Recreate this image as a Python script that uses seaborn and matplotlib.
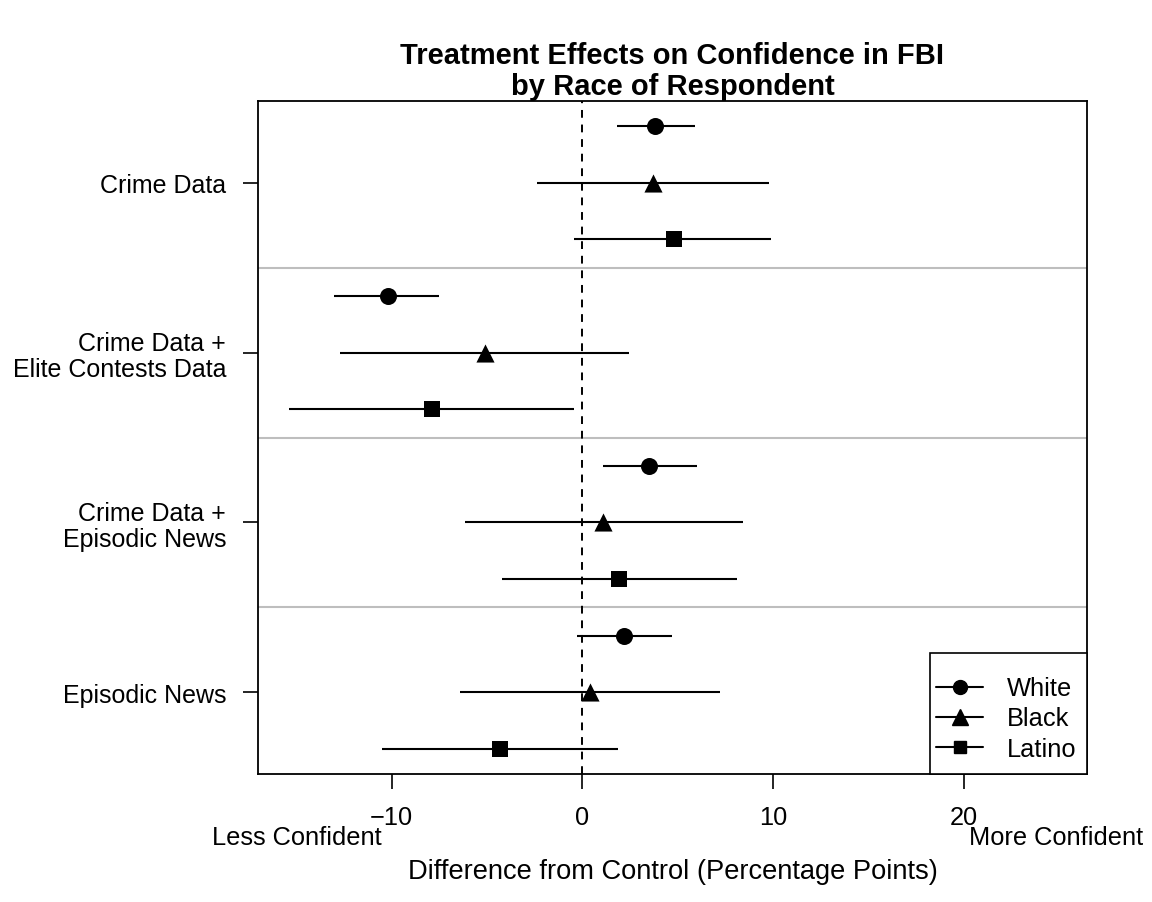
import matplotlib
matplotlib.use("Agg")
import matplotlib.pyplot as plt
from matplotlib.lines import Line2D
from matplotlib.patches import Rectangle
import seaborn as sns
import pandas as pd

# ---- data ----
treatments = ["Crime Data", "Crime Data +\nElite Contests Data",
              "Crime Data +\nEpisodic News", "Episodic News"]
races = ["White", "Black", "Latino"]
estimate = [3.8, 3.7, 4.8,
            -10.2, -5.1, -7.9,
            3.5, 1.1, 1.9,
            2.2, 0.4, -4.3]
ci_low = [1.8, -2.4, -0.45,
          -13.0, -12.7, -15.4,
          1.1, -6.15, -4.2,
          -0.3, -6.4, -10.5]
ci_high = [5.9, 9.8, 9.9,
           -7.5, 2.45, -0.45,
           6.0, 8.4, 8.1,
           4.7, 7.2, 1.85]
x_ticks = [-10, 0, 10, 20]
x_ticklabels = ["\u221210", "0", "10", "20"]

rows = []
k = 0
for g, t in enumerate(treatments):
    for r, race in enumerate(races):
        rows.append({"treatment": t, "race": race,
                     "est": estimate[k], "lo": ci_low[k], "hi": ci_high[k],
                     "y": 12 - (3 * g + r)})
        k += 1
df = pd.DataFrame(rows)

sns.set_style("ticks")
plt.rcParams["font.family"] = ["Liberation Sans", "DejaVu Sans"]
plt.rcParams["text.color"] = "black"
plt.rcParams["xtick.color"] = "black"
plt.rcParams["ytick.color"] = "black"
plt.rcParams["axes.labelcolor"] = "black"
FS = 18.3

fig = plt.figure(figsize=(11.52, 9.03), dpi=100)
ax = fig.add_axes([258 / 1152, 1 - 775 / 903, (1087 - 258) / 1152, (775 - 102) / 903])

# separators and zero line
for yy in [3.5, 6.5, 9.5]:
    ax.axhline(yy, color="#BEBEBE", lw=1.5, zorder=1)
ax.axvline(0, color="black", lw=1.4, ls=(0, (4, 3.5)), zorder=1)

# confidence intervals
ax.hlines(df["y"], df["lo"], df["hi"], color="black", lw=1.5, zorder=2)

markers = {"White": "o", "Black": "^", "Latino": "s"}
sizes = {"White": 150, "Black": 170, "Latino": 120}
for race in races:
    sub = df[df["race"] == race]
    sns.scatterplot(data=sub, x="est", y="y", marker=markers[race], s=sizes[race],
                    color="black", edgecolor="black", linewidth=0, ax=ax,
                    zorder=3, legend=False)

ax.set_xlim(-17.0, 26.45)
ax.set_ylim(0.56, 12.44)
ax.set_xticks(x_ticks)
ax.set_xticklabels(x_ticklabels)
ax.set_yticks([11, 8, 5, 2])
ax.set_yticklabels(treatments, fontsize=18, ha="right", linespacing=1.1)
ax.tick_params(axis="x", labelsize=FS, length=11, width=1.2, pad=11, color="black",
               labelcolor="black")
ax.tick_params(axis="y", length=11, width=1.2, pad=12, color="black",
               labelcolor="black")
ax.set_xlabel("")
ax.set_ylabel("")
for s in ax.spines.values():
    s.set_visible(True)
    s.set_color("black")
    s.set_linewidth(1.3)

# legend box (R style) + frameless legend entries
W = 1087 - 258
H = 775 - 102
ax.add_patch(Rectangle(((930 - 258) / W, 0), (1087 - 930) / W, (775 - 654) / H,
                       transform=ax.transAxes, facecolor="white", edgecolor="black",
                       lw=1.2, zorder=5, clip_on=False))
handles = [Line2D([0], [0], color="black", lw=1.5, marker=markers[r],
                  markersize={"White": 10, "Black": 11, "Latino": 9}[r]) for r in races]
leg = ax.legend(handles, races, loc="center left",
                bbox_to_anchor=((936 - 258) / W, (775 - 719.5) / H),
                borderaxespad=0, borderpad=0, fontsize=FS, frameon=False,
                handlelength=1.85, handletextpad=0.95, labelspacing=0.24)
leg.set_zorder(6)

cx = (258 + 1087) / 2 / 1152
fig.text(cx, 1 - 56 / 903, "Treatment Effects on Confidence in FBI",
         ha="center", va="center", fontsize=21, fontweight="bold")
fig.text(cx, 1 - 87 / 903, "by Race of Respondent",
         ha="center", va="center", fontsize=21, fontweight="bold")
fig.text(212 / 1152, 1 - 838 / 903, "Less Confident", ha="left", va="center", fontsize=FS)
fig.text(1143 / 1152, 1 - 838 / 903, "More Confident", ha="right", va="center", fontsize=FS)
fig.text(cx, 1 - 872 / 903, "Difference from Control (Percentage Points)",
         ha="center", va="center", fontsize=19.6)

fig.savefig("out.png", dpi=100, facecolor="white")
